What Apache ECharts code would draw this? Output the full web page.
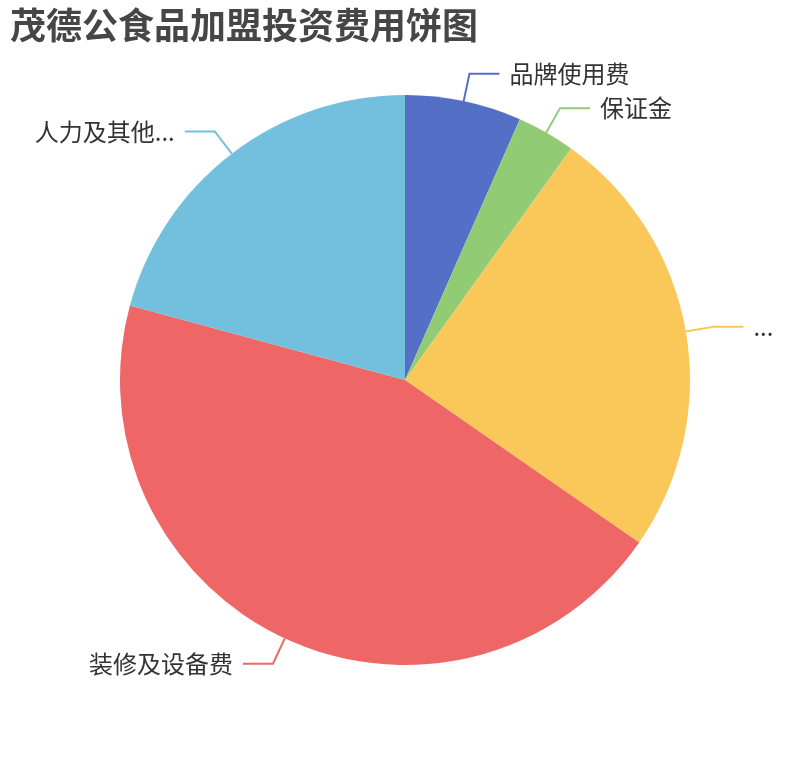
<!DOCTYPE html>
<html>
<head>
<meta charset="utf-8">
<script src="https://cdn.jsdelivr.net/npm/echarts@6/dist/echarts.min.js"></script>
<style>
html,body{margin:0;padding:0;background:#fff;}
#main{width:810px;height:760px;}
</style>
</head>
<body>
<div id="main"></div>
<script>
var titleText = '茂德公食品加盟投资费用饼图';
var categories = ['品牌使用费', '保证金', '首批货款及原材料费', '装修及设备费', '人力及其他费用'];
var values = [2, 1, 7.5, 13.5, 6.3];

// label width limits (layout only, not data)
var labelMaxWidth = 145;
var narrowLabelIndex = 2;
var narrowLabelWidth = 30;

var chart = echarts.init(document.getElementById('main'));
var data = categories.map(function (c, i) {
  var item = { name: c, value: values[i] };
  if (i === narrowLabelIndex) {
    item.label = { width: narrowLabelWidth, overflow: 'truncate' };
  }
  return item;
});
chart.setOption({
  color: ['#5470c6', '#91cc75', '#fac858', '#ee6666', '#73c0de'],
  title: {
    text: titleText,
    left: 5,
    top: 2,
    textStyle: { fontSize: 36, fontWeight: 'bold', color: '#464646', fontFamily: 'Noto Sans CJK SC' }
  },
  series: [{
    type: 'pie',
    radius: '75%',
    center: ['50%', '50%'],
    startAngle: 90,
    data: data,
    label: {
      fontSize: 24, color: '#333', fontFamily: 'Noto Sans CJK SC',
      width: labelMaxWidth, overflow: 'truncate', distanceToLabelLine: 10
    },
    labelLine: { length: 28, length2: 30, lineStyle: { width: 2 } }
  }]
});
</script>
</body>
</html>
